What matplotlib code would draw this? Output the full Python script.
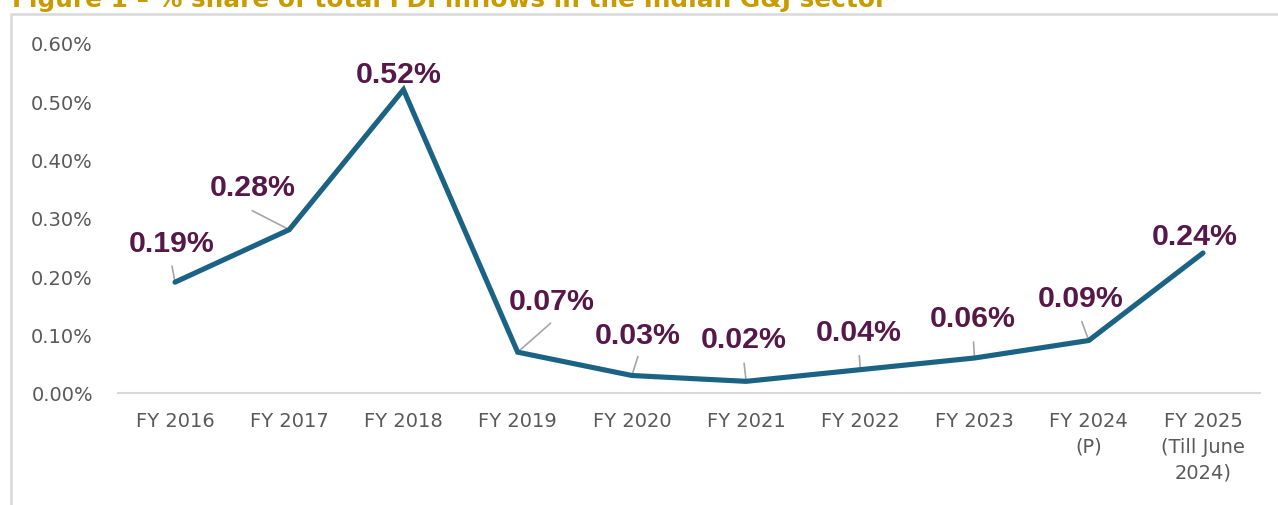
import matplotlib.pyplot as plt
from matplotlib.patches import Rectangle
from matplotlib.ticker import FuncFormatter

years = ["FY 2016", "FY 2017", "FY 2018", "FY 2019", "FY 2020", "FY 2021",
         "FY 2022", "FY 2023", "FY 2024\n(P)", "FY 2025\n(Till June\n2024)"]
share = [0.19, 0.28, 0.52, 0.07, 0.03, 0.02, 0.04, 0.06, 0.09, 0.24]
yticks = [0.0, 0.1, 0.2, 0.3, 0.4, 0.5, 0.6]

# label offsets from each point (pixels) and leader line starts (None = no leader)
label_off = [(-3, 39), (-37, 43), (-5, 16), (34, 51), (6, 40), (-2, 42),
             (-2, 38), (-2, 40), (-8, 42), (-8, 17)]
leader_off = [(-3, 16), (-37, 19), None, (33, 29), (6, 19), (-2, 18),
              (-1, 14), (-1, 16), (-7, 19), None]

line_col = "#1B6384"
lab_col = "#561848"
grey = "#595959"

fig = plt.figure(figsize=(12.78, 5.06), dpi=100)
ax = fig.add_axes([117.9 / 1278, 112 / 506, 1142.2 / 1278, 350 / 506])

x = list(range(len(years)))
ax.plot(x, share, color=line_col, lw=3.7, solid_capstyle="round",
        solid_joinstyle="miter", zorder=3)

for i, v in enumerate(share):
    ax.annotate(f"{v:.2f}%", xy=(i, v), xytext=label_off[i],
                textcoords="offset pixels", ha="center", va="center",
                fontsize=21.8, fontweight="bold", color=lab_col,
                family="Liberation Sans", zorder=4)
    if leader_off[i] is not None:
        ax.annotate("", xy=(i, v), xytext=leader_off[i],
                    textcoords="offset pixels",
                    arrowprops=dict(arrowstyle="-", color="#A6A6A6", lw=1.2,
                                    shrinkA=0, shrinkB=0), zorder=2)

ax.set_xlim(-0.5, len(years) - 0.5)
ax.set_ylim(0, 0.6)
ax.set_yticks(yticks)
ax.yaxis.set_major_formatter(FuncFormatter(lambda v, p: f"{v:.2f}%"))
ax.set_xticks(x)
ax.set_xticklabels(years, linespacing=1.45, va="top")

for s in ["top", "right", "left"]:
    ax.spines[s].set_visible(False)
ax.spines["bottom"].set_color("#D9D9D9")
ax.spines["bottom"].set_linewidth(1.5)
ax.tick_params(axis="both", length=0, labelsize=14, labelcolor=grey)
ax.tick_params(axis="y", pad=18)
ax.tick_params(axis="x", pad=13)

# chart border, running past the right and bottom edges
fig.patches.append(Rectangle((11 / 1278, -0.1), 1.2, 1 - 15 / 506 + 0.1,
                             transform=fig.transFigure, fill=False,
                             edgecolor="#D9D9D9", lw=1.8))

# title sits mostly above the top edge, as in the source crop
fig.text(12 / 1278, 1 - 7 / 506,
         "Figure 1 \u2013 % share of total FDI inflows in the Indian G&J sector",
         ha="left", va="baseline", fontsize=17.8, fontweight="bold",
         color="#C89B00", family="DejaVu Sans")

fig.savefig("out.png", dpi=100)
